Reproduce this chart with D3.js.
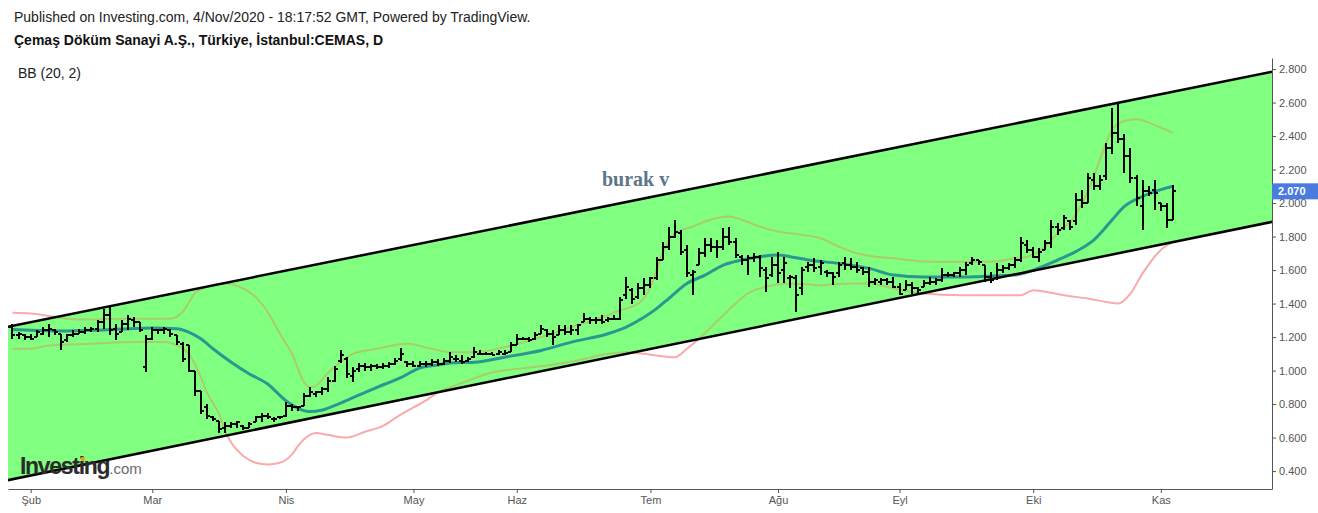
<!DOCTYPE html>
<html>
<head>
<meta charset="utf-8">
<script src="https://cdn.jsdelivr.net/npm/d3@7"></script>
<style>
  body { margin: 0; background: #fff; }
  svg { display: block; font-family: "Liberation Sans", Arial, sans-serif; }
</style>
</head>
<body>
<div id="chart"></div>
<script>
// CEMAS daily bars with BB(20,2) and a hand drawn channel

const width = 1318;
const height = 513;
const plot = { left: 8, right: 1272, top: 58, bottom: 489 };

// first bar is 3 sessions before 3 Feb 2020 (index 0 = first Feb session)
const firstIndex = -3;

const opens = [
  1.26, 1.21, 1.21, 1.20, 1.20, 1.22, 1.24, 1.24, 1.22, 1.18, 1.21, 1.22, 1.23,
  1.24, 1.25, 1.29, 1.33, 1.25, 1.23, 1.28, 1.30, 1.29, 1.02,
  1.19, 1.24, 1.24, 1.24, 1.21, 1.16, 1.15, 1.00, 0.88, 0.78,
  0.72, 0.70, 0.66, 0.67, 0.68, 0.67, 0.66, 0.69, 0.72, 0.73,
  0.71, 0.72, 0.73, 0.79, 0.78, 0.79, 0.85, 0.86, 0.87, 0.89,
  0.94, 1.06, 1.07, 0.97, 1.01, 1.03, 1.02, 1.03, 1.02, 1.03,
  1.04, 1.07, 1.05, 1.04, 1.03, 1.04, 1.04, 1.05, 1.04, 1.06,
  1.07, 1.06, 1.06, 1.08, 1.10, 1.10, 1.10, 1.10, 1.10, 1.11,
  1.15, 1.19, 1.19, 1.19, 1.22, 1.24, 1.22, 1.21, 1.24, 1.23,
  1.24, 1.29, 1.31, 1.30, 1.30, 1.30, 1.31, 1.31, 1.45, 1.48,
  1.44, 1.49, 1.51, 1.55, 1.66, 1.74, 1.80, 1.82, 1.72, 1.57,
  1.63, 1.70, 1.75, 1.74, 1.74, 1.80, 1.77, 1.68, 1.66, 1.67,
  1.68, 1.60, 1.57, 1.63, 1.60, 1.55, 1.55, 1.49, 1.62, 1.63,
  1.62, 1.59, 1.58, 1.58, 1.64, 1.63, 1.62, 1.61, 1.59, 1.53,
  1.53, 1.54, 1.53, 1.50, 1.48, 1.51, 1.49, 1.50, 1.52, 1.53,
  1.54, 1.57, 1.57, 1.58, 1.60, 1.64, 1.66, 1.63, 1.56, 1.55,
  1.60, 1.61, 1.63, 1.66, 1.75, 1.72, 1.68, 1.72, 1.76, 1.86,
  1.85, 1.89, 1.89, 2.02, 2.00, 2.14, 2.10, 2.16, 2.33, 2.42,
  2.38, 2.28, 2.15, 1.98, 2.07, 2.08, 2.00, 1.98, 1.90
];

const highs = [
  1.28, 1.23, 1.22, 1.22, 1.24, 1.26, 1.28, 1.25, 1.22, 1.22, 1.24, 1.25, 1.26,
  1.26, 1.30, 1.37, 1.38, 1.28, 1.30, 1.33, 1.32, 1.29, 1.21,
  1.26, 1.25, 1.26, 1.25, 1.21, 1.17, 1.15, 1.00, 0.88, 0.80,
  0.73, 0.70, 0.69, 0.69, 0.70, 0.675, 0.69, 0.73, 0.745, 0.745,
  0.72, 0.73, 0.81, 0.80, 0.79, 0.865, 0.90, 0.88, 0.90, 0.96,
  1.03, 1.12, 1.08, 1.02, 1.045, 1.045, 1.04, 1.04, 1.045, 1.05,
  1.075, 1.135, 1.06, 1.06, 1.06, 1.06, 1.07, 1.07, 1.075, 1.11,
  1.09, 1.09, 1.08, 1.14, 1.12, 1.11, 1.11, 1.12, 1.12, 1.17,
  1.22, 1.20, 1.20, 1.23, 1.27, 1.25, 1.24, 1.27, 1.27, 1.27,
  1.28, 1.345, 1.32, 1.32, 1.33, 1.32, 1.33, 1.44, 1.56, 1.49,
  1.52, 1.55, 1.56, 1.68, 1.77, 1.86, 1.90, 1.84, 1.75, 1.60,
  1.73, 1.79, 1.79, 1.78, 1.85, 1.86, 1.79, 1.69, 1.69, 1.70,
  1.69, 1.62, 1.68, 1.71, 1.68, 1.57, 1.57, 1.62, 1.65, 1.67,
  1.66, 1.60, 1.59, 1.65, 1.68, 1.67, 1.65, 1.62, 1.62, 1.55,
  1.555, 1.555, 1.56, 1.52, 1.54, 1.53, 1.50, 1.54, 1.56, 1.55,
  1.61, 1.59, 1.59, 1.62, 1.65, 1.68, 1.66, 1.63, 1.59, 1.64,
  1.63, 1.64, 1.68, 1.80, 1.78, 1.74, 1.73, 1.78, 1.90, 1.88,
  1.93, 1.90, 2.06, 2.08, 2.18, 2.18, 2.17, 2.36, 2.57, 2.60,
  2.41, 2.33, 2.17, 2.14, 2.10, 2.14, 2.00, 2.00, 2.11
];

const lows = [
  1.19, 1.19, 1.18, 1.18, 1.20, 1.21, 1.20, 1.21, 1.12, 1.17, 1.20, 1.22, 1.22,
  1.23, 1.23, 1.25, 1.21, 1.18, 1.23, 1.24, 1.26, 1.23, 0.99,
  1.18, 1.22, 1.22, 1.20, 1.15, 1.05, 0.99, 0.85, 0.74, 0.71,
  0.70, 0.63, 0.63, 0.66, 0.66, 0.645, 0.66, 0.69, 0.69, 0.71,
  0.69, 0.71, 0.72, 0.76, 0.76, 0.79, 0.84, 0.84, 0.855, 0.87,
  0.93, 1.045, 0.955, 0.93, 0.99, 1.00, 1.00, 1.01, 1.01, 1.015,
  1.033, 1.06, 1.02, 1.02, 1.02, 1.02, 1.03, 1.03, 1.033, 1.045,
  1.05, 1.04, 1.05, 1.075, 1.09, 1.09, 1.09, 1.09, 1.09, 1.11,
  1.15, 1.18, 1.17, 1.18, 1.22, 1.20, 1.15, 1.21, 1.21, 1.21,
  1.21, 1.29, 1.28, 1.28, 1.28, 1.29, 1.30, 1.30, 1.43, 1.40,
  1.43, 1.45, 1.49, 1.54, 1.66, 1.72, 1.79, 1.69, 1.56, 1.45,
  1.63, 1.68, 1.71, 1.67, 1.72, 1.75, 1.67, 1.63, 1.57, 1.65,
  1.56, 1.47, 1.56, 1.52, 1.52, 1.49, 1.35, 1.45, 1.59, 1.59,
  1.57, 1.56, 1.51, 1.56, 1.60, 1.60, 1.58, 1.57, 1.50, 1.51,
  1.51, 1.51, 1.49, 1.45, 1.48, 1.46, 1.46, 1.50, 1.51, 1.51,
  1.53, 1.56, 1.56, 1.56, 1.57, 1.63, 1.63, 1.53, 1.52, 1.54,
  1.58, 1.60, 1.61, 1.65, 1.70, 1.67, 1.65, 1.72, 1.73, 1.81,
  1.84, 1.84, 1.87, 1.97, 2.00, 2.08, 2.08, 2.14, 2.29, 2.36,
  2.18, 2.12, 1.98, 1.84, 2.04, 1.96, 1.95, 1.85, 1.90
];

const closes = [
  1.21, 1.22, 1.20, 1.19, 1.23, 1.24, 1.25, 1.23, 1.17, 1.21, 1.22, 1.23, 1.24,
  1.25, 1.29, 1.33, 1.24, 1.22, 1.28, 1.31, 1.29, 1.24, 1.19,
  1.24, 1.24, 1.25, 1.22, 1.17, 1.07, 1.00, 0.88, 0.76, 0.73,
  0.71, 0.65, 0.67, 0.68, 0.69, 0.66, 0.68, 0.72, 0.73, 0.72,
  0.71, 0.725, 0.79, 0.78, 0.78, 0.85, 0.87, 0.87, 0.89, 0.94,
  1.01, 1.09, 0.98, 1.00, 1.03, 1.02, 1.03, 1.02, 1.03, 1.04,
  1.06, 1.10, 1.04, 1.03, 1.04, 1.04, 1.05, 1.04, 1.06, 1.08,
  1.07, 1.05, 1.07, 1.11, 1.10, 1.10, 1.095, 1.11, 1.105, 1.15,
  1.19, 1.19, 1.18, 1.21, 1.25, 1.22, 1.20, 1.24, 1.23, 1.24,
  1.27, 1.31, 1.30, 1.30, 1.29, 1.31, 1.31, 1.42, 1.50, 1.43,
  1.49, 1.51, 1.55, 1.66, 1.74, 1.80, 1.83, 1.71, 1.58, 1.59,
  1.70, 1.75, 1.74, 1.74, 1.80, 1.77, 1.69, 1.66, 1.67, 1.68,
  1.61, 1.55, 1.63, 1.58, 1.64, 1.56, 1.45, 1.60, 1.63, 1.61,
  1.64, 1.58, 1.56, 1.63, 1.63, 1.62, 1.60, 1.59, 1.53, 1.54,
  1.54, 1.53, 1.50, 1.46, 1.51, 1.49, 1.48, 1.52, 1.53, 1.54,
  1.57, 1.57, 1.58, 1.60, 1.63, 1.66, 1.65, 1.56, 1.54, 1.60,
  1.61, 1.63, 1.66, 1.76, 1.72, 1.68, 1.71, 1.76, 1.86, 1.84,
  1.91, 1.86, 2.02, 2.00, 2.15, 2.10, 2.14, 2.33, 2.42, 2.38,
  2.28, 2.15, 2.03, 2.07, 2.06, 2.06, 1.98, 1.90, 2.07
];

// Bollinger bands: [bar index, value]
const bbUpper = [
  [-3, 1.345], [0, 1.34], [4, 1.32], [6, 1.31], [10, 1.305], [15, 1.31], [20, 1.31], [23, 1.31],
  [25, 1.35], [27, 1.46], [29, 1.50], [32, 1.52], [35, 1.49], [37, 1.44], [39, 1.35], [41, 1.22],
  [43, 1.10], [45, 0.93], [46, 0.90], [47, 0.91], [49, 0.99], [51, 1.05], [53, 1.10], [57, 1.13],
  [62, 1.16], [66, 1.13], [69, 1.11], [73, 1.11], [78, 1.14], [84, 1.20], [89, 1.26], [95, 1.33],
  [97, 1.36], [100, 1.40], [102, 1.50], [103, 1.60], [104, 1.70], [105, 1.77], [106, 1.82],
  [109, 1.86], [111, 1.89], [115, 1.92], [117, 1.90], [120, 1.86], [123, 1.83], [127, 1.81],
  [130, 1.79], [133, 1.74], [136, 1.70], [139, 1.68], [142, 1.67], [148, 1.65], [153, 1.65],
  [158, 1.65], [162, 1.67], [164, 1.68], [167, 1.74], [169, 1.82], [172, 1.93], [175, 2.16],
  [177, 2.36], [178, 2.44], [180, 2.49], [182, 2.50], [184, 2.48], [186, 2.45], [188, 2.42]
];

const bbMiddle = [
  [-3, 1.245], [0, 1.24], [5, 1.236], [10, 1.24], [15, 1.248], [20, 1.254], [24, 1.25], [26, 1.23],
  [28, 1.19], [30, 1.13], [33, 1.05], [36, 0.98], [39, 0.92], [42, 0.82], [44, 0.775], [46, 0.755],
  [48, 0.765], [51, 0.806], [54, 0.854], [57, 0.90], [61, 0.96], [64, 1.015], [67, 1.033],
  [69, 1.045], [73, 1.05], [78, 1.08], [84, 1.12], [89, 1.17], [95, 1.22], [98, 1.26], [101, 1.32],
  [103, 1.37], [105, 1.43], [108, 1.52], [111, 1.57], [114, 1.63], [117, 1.66], [120, 1.68],
  [123, 1.69], [125, 1.68], [128, 1.66], [133, 1.64], [138, 1.61], [142, 1.57], [147, 1.558],
  [153, 1.558], [158, 1.564], [162, 1.57], [165, 1.60], [169, 1.66], [172, 1.71], [175, 1.78],
  [178, 1.90], [180, 1.98], [183, 2.04], [186, 2.08], [188, 2.10]
];

const bbLower = [
  [-3, 1.13], [0, 1.13], [3, 1.15], [10, 1.16], [17, 1.17], [22, 1.17], [24, 1.15], [26, 1.10],
  [27, 1.04], [28, 0.96], [29, 0.87], [31, 0.74], [32, 0.64], [33, 0.57], [35, 0.49], [37, 0.45],
  [39, 0.44], [41, 0.45], [43, 0.50], [44, 0.55], [45, 0.59], [47, 0.627], [49, 0.615], [52, 0.60],
  [55, 0.635], [58, 0.67], [61, 0.74], [63, 0.78], [65, 0.82], [67, 0.87], [69, 0.90], [72, 0.94],
  [76, 0.99], [80, 1.01], [85, 1.03], [90, 1.06], [95, 1.10], [98, 1.11], [101, 1.10], [103, 1.09],
  [106, 1.08], [108, 1.13], [110, 1.19], [112, 1.26], [114, 1.33], [116, 1.40], [118, 1.46],
  [121, 1.50], [125, 1.52], [130, 1.51], [135, 1.52], [138, 1.52], [142, 1.49], [147, 1.46],
  [153, 1.45], [158, 1.45], [163, 1.45], [165, 1.48], [167, 1.47], [170, 1.45], [174, 1.43],
  [177, 1.41], [179, 1.40], [181, 1.46], [183, 1.58], [186, 1.72], [188, 1.77]
];

// parallel channel drawn by the author: [bar index, price]
const channelTop = [[-4, 1.260], [205, 2.789]];
const channelBottom = [[-4, 0.344], [205, 1.893]];

const monthLabels = ["Şub", "Mar", "Nis", "May", "Haz", "Tem", "Ağu", "Eyl", "Eki", "Kas"];
const monthIndex = [0, 20, 42, 63, 80, 102, 123, 143, 165, 186];
const yTicks = [0.4, 0.6, 0.8, 1.0, 1.2, 1.4, 1.6, 1.8, 2.0, 2.2, 2.4, 2.6, 2.8];
const lastPrice = 2.070;

const bars = closes.map((c, k) => ({
  i: k + firstIndex, o: opens[k], h: highs[k], l: lows[k], c: c
}));

/* scales */
const x = d3.scaleLinear()
  .domain([-3.74, 204.3])
  .range([plot.left, plot.right]);

const y = d3.scaleLinear()
  .domain([0.293, 2.866])
  .range([plot.bottom, plot.top]);

const svg = d3.select("#chart")
  .append("svg")
  .attr("width", width)
  .attr("height", height);

const ptLine = d3.line().x(d => x(d[0])).y(d => y(d[1]));
const channelPath = ptLine(channelTop.concat(channelBottom.slice().reverse())) + "Z";

const defs = svg.append("defs");
defs.append("clipPath")
  .attr("id", "plot-clip")
  .append("rect")
  .attr("x", plot.left)
  .attr("y", plot.top)
  .attr("width", plot.right - plot.left)
  .attr("height", plot.bottom - plot.top);
defs.append("clipPath")
  .attr("id", "channel-clip")
  .append("path")
  .attr("d", channelPath);

const g = svg.append("g").attr("clip-path", "url(#plot-clip)");

const bandLine = d3.line()
  .x(d => x(d[0]))
  .y(d => y(d[1]))
  .curve(d3.curveMonotoneX);

// bands look pink on white ...
[bbUpper, bbLower].forEach(band => {
  g.append("path")
    .attr("d", bandLine(band))
    .attr("fill", "none")
    .attr("stroke", "#f9aaaa")
    .attr("stroke-width", 2);
});

// channel fill
g.append("path")
  .attr("d", channelPath)
  .attr("fill", "#80ff80");

// ... and olive where they run inside the green channel
const inside = g.append("g").attr("clip-path", "url(#channel-clip)");
[bbUpper, bbLower].forEach(band => {
  inside.append("path")
    .attr("d", bandLine(band))
    .attr("fill", "none")
    .attr("stroke", "#a9cc6c")
    .attr("stroke-width", 2);
});

g.append("path")
  .attr("d", bandLine(bbMiddle))
  .attr("fill", "none")
  .attr("stroke", "rgba(0,105,150,0.68)")
  .attr("stroke-width", 3);

// channel borders
[channelTop, channelBottom].forEach(edge => {
  g.append("path")
    .attr("d", ptLine(edge))
    .attr("fill", "none")
    .attr("stroke", "#000")
    .attr("stroke-width", 2.5);
});

// OHLC bars
const barG = g.append("g")
  .attr("stroke", "#000")
  .attr("stroke-width", 2)
  .attr("shape-rendering", "crispEdges");

const bar = barG.selectAll(".ohlc")
  .data(bars)
  .enter()
  .append("g")
  .attr("class", "ohlc");

bar.append("line")
  .attr("x1", d => Math.round(x(d.i)))
  .attr("x2", d => Math.round(x(d.i)))
  .attr("y1", d => y(d.h))
  .attr("y2", d => y(d.l));

bar.append("line")
  .attr("x1", d => Math.round(x(d.i)) - 3)
  .attr("x2", d => Math.round(x(d.i)))
  .attr("y1", d => y(d.o))
  .attr("y2", d => y(d.o));

bar.append("line")
  .attr("x1", d => Math.round(x(d.i)))
  .attr("x2", d => Math.round(x(d.i)) + 3)
  .attr("y1", d => y(d.c))
  .attr("y2", d => y(d.c));

/* axes */
const yAxis = svg.append("g")
  .attr("transform", `translate(${plot.right},0)`)
  .call(d3.axisRight(y)
    .tickValues(yTicks)
    .tickFormat(d3.format(".3f"))
    .tickSize(4)
    .tickSizeOuter(0));

const xAxis = svg.append("g")
  .attr("transform", `translate(0,${plot.bottom})`)
  .call(d3.axisBottom(x)
    .tickValues(monthIndex)
    .tickFormat((d, k) => monthLabels[k])
    .tickSize(4)
    .tickSizeOuter(0));

[yAxis, xAxis].forEach(ax => {
  ax.select(".domain").attr("stroke", "#555");
  ax.selectAll(".tick line").attr("stroke", "#555");
  ax.selectAll("text")
    .attr("fill", "#555")
    .attr("font-size", "11px")
    .attr("font-family", "Liberation Sans, Arial, sans-serif");
});

// last price tag
svg.append("rect")
  .attr("x", plot.right)
  .attr("y", y(lastPrice) - 8)
  .attr("width", width - plot.right)
  .attr("height", 16)
  .attr("fill", "#4c7be0");

svg.append("text")
  .attr("x", plot.right + 6)
  .attr("y", y(lastPrice) + 4)
  .attr("fill", "#fff")
  .attr("font-size", "11px")
  .attr("font-weight", "bold")
  .text(d3.format(".3f")(lastPrice));

/* texts */
svg.append("text")
  .attr("x", 14).attr("y", 22)
  .attr("font-size", "14px").attr("fill", "#222")
  .text("Published on Investing.com, 4/Nov/2020 - 18:17:52 GMT, Powered by TradingView.");

svg.append("text")
  .attr("x", 14).attr("y", 45)
  .attr("font-size", "14px").attr("font-weight", "bold").attr("fill", "#111")
  .text("Çemaş Döküm Sanayi A.Ş., Türkiye, İstanbul:CEMAS, D");

svg.append("text")
  .attr("x", 18).attr("y", 78)
  .attr("font-size", "14px").attr("fill", "#222")
  .text("BB (20, 2)");

svg.append("text")
  .attr("x", 602).attr("y", 186)
  .attr("font-family", "Liberation Serif, Times New Roman, serif")
  .attr("font-size", "20px").attr("font-weight", "bold")
  .attr("fill", "#5d7689")
  .text("burak v");

// Investing.com watermark
const wm = svg.append("text")
  .attr("x", 20).attr("y", 474);
wm.append("tspan")
  .attr("font-size", "23px").attr("font-weight", "bold")
  .attr("letter-spacing", "-1.3")
  .attr("fill", "#2b2b2b")
  .text("Investing");
wm.append("tspan")
  .attr("font-size", "15px")
  .attr("fill", "#6b6b6b")
  .text(".com");

svg.append("circle")
  .attr("cx", 83).attr("cy", 459).attr("r", 2.2)
  .attr("fill", "#f5a01a");
</script>
</body>
</html>
